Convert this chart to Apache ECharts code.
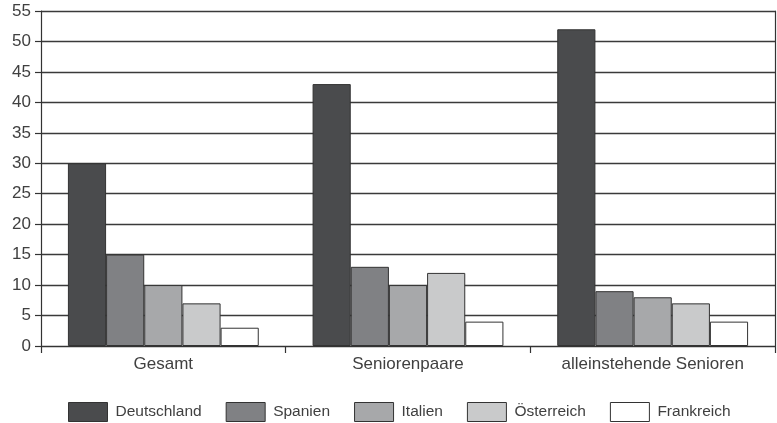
<!DOCTYPE html>
<html>
<head>
<meta charset="utf-8">
<script src="https://cdn.jsdelivr.net/npm/echarts@6/dist/echarts.min.js"></script>
<style>
  html, body { margin: 0; padding: 0; background: #fff; }
  #chart { width: 777px; height: 423px; }
</style>
</head>
<body>
<div id="chart"></div>
<script>
// Gruppen auf der x-Achse
const categories = ['Gesamt', 'Seniorenpaare', 'alleinstehende Senioren'];

// Werte je Land (in Prozent)
const deutschland = [30, 43, 52];
const spanien = [15, 13, 9];
const italien = [10, 10, 8];
const oesterreich = [7, 12, 7];
const frankreich = [3, 4, 4];

const yTicks = { min: 0, max: 55, interval: 5 };

const seriesDefs = [
  { name: 'Deutschland', data: deutschland, color: '#4a4b4d' },
  { name: 'Spanien', data: spanien, color: '#808184' },
  { name: 'Italien', data: italien, color: '#a7a8aa' },
  { name: 'Österreich', data: oesterreich, color: '#c9cacb' },
  { name: 'Frankreich', data: frankreich, color: '#ffffff' }
];

const font = '"Liberation Sans", Arial, sans-serif';
const ink = '#404040';

const chart = echarts.init(document.getElementById('chart'), null, { renderer: 'canvas' });

chart.setOption({
  animation: false,
  backgroundColor: '#ffffff',
  grid: {
    left: 41, right: 2, top: 11, bottom: 77,
    containLabel: false
  },
  legend: {
    left: 63,
    top: 397,
    itemWidth: 39,
    itemHeight: 19,
    itemGap: 24,
    icon: 'rect',
    textStyle: { fontFamily: font, fontSize: 15.5, color: ink, padding: [0, 0, 0, 3] },
    data: seriesDefs.map(s => ({
      name: s.name,
      itemStyle: { color: s.color, borderColor: '#333', borderWidth: 1 }
    }))
  },
  xAxis: {
    type: 'category',
    data: categories,
    boundaryGap: true,
    axisLine: { show: true, lineStyle: { color: '#333', width: 1.2 } },
    axisTick: { show: true, length: 7, lineStyle: { color: '#333', width: 1.2 } },
    axisLabel: { fontFamily: font, fontSize: 17, color: ink, margin: 10 }
  },
  yAxis: [
    {
      type: 'value',
      min: yTicks.min,
      max: yTicks.max,
      interval: yTicks.interval,
      axisLine: { show: true, lineStyle: { color: '#333', width: 1.2 } },
      axisTick: { show: true, length: 6, lineStyle: { color: '#333', width: 1.2 } },
      axisLabel: { fontFamily: font, fontSize: 17, color: ink, margin: 10 },
      splitLine: { show: true, lineStyle: { color: '#3a3a3a', width: 1.3 } }
    },
    {
      type: 'value',
      position: 'right',
      min: yTicks.min,
      max: yTicks.max,
      interval: yTicks.interval,
      axisLine: { show: true, lineStyle: { color: '#333', width: 1.2 } },
      axisTick: { show: false },
      axisLabel: { show: false },
      splitLine: { show: false }
    }
  ],
  series: seriesDefs.map(s => ({
    name: s.name,
    type: 'bar',
    data: s.data,
    yAxisIndex: 0,
    barGap: '0%',
    barCategoryGap: '22%',
    itemStyle: { color: s.color, borderColor: '#333', borderWidth: 1 }
  }))
});
</script>
</body>
</html>
